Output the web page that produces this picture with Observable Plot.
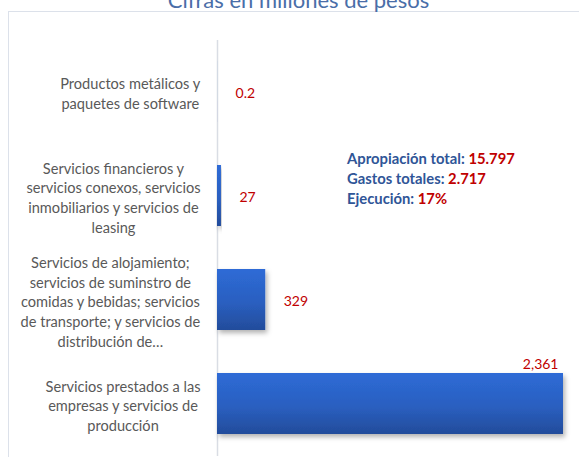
<!DOCTYPE html>
<html>
<head>
<meta charset="utf-8">
<script src="https://cdn.jsdelivr.net/npm/d3@7"></script>
<script src="https://cdn.jsdelivr.net/npm/@observablehq/plot@0.6"></script>
<style>
  html, body { margin: 0; padding: 0; background: #fff; overflow: hidden; }
  #wrap { position: relative; width: 579px; height: 457px; overflow: hidden; }
  #border { position: absolute; left: 8px; top: 11px; width: 600px; height: 500px; border: 1.5px solid #dce1ea; box-sizing: border-box; }
  #title { position: absolute; left: 0; width: 597px; top: -12px; text-align: center; font-family: Lato, sans-serif; font-size: 22px; color: #4a6ea8; line-height: 24px; white-space: nowrap; }
  #chart { position: absolute; left: 0; top: 0; }
  #note { position: absolute; left: 347px; top: 148px; font-family: Lato, sans-serif; font-weight: bold; font-size: 14.8px; line-height: 20px; color: #2f5597; white-space: nowrap; }
  #note .v { color: #c00000; }
</style>
</head>
<body>
<div id="wrap">
  <div id="border"></div>
  <div id="title">Cifras en millones de pesos</div>
  <div id="chart"></div>
  <div id="note"></div>
</div>
<script>
// ---- data ----
const categories = [
  "Productos metálicos y\npaquetes de software",
  "Servicios financieros y\nservicios conexos, servicios\ninmobiliarios y servicios de\nleasing",
  "Servicios de alojamiento;\nservicios de suminstro de\ncomidas y bebidas; servicios\nde transporte; y servicios de\ndistribución de…",
  "Servicios prestados a las\nempresas y servicios de\nproducción"
];
const values = [0.2, 27, 329, 2361];
const noteLabels = ["Apropiación total:", "Gastos totales:", "Ejecución:"];
const noteValues = ["15.797", "2.717", "17%"];

// ---- build ----
const data = categories.map((c, i) => ({category: c, value: values[i]}));
const fmt = d3.format(",");
const maxV = d3.max(values);

const labelSize = 14.6;
const ctx = document.createElement("canvas").getContext("2d");
ctx.font = labelSize + "px Lato";
const blockWidth = c => d3.max(c.split("\n"), l => ctx.measureText(l).width);

const labelMarks = data.map(d => Plot.text([d], {
  x: () => 0, y: "category", text: "category",
  textAnchor: "middle", lineAnchor: "middle", lineHeight: 1.36,
  dx: -(17 + blockWidth(d.category) / 2), dy: 1,
  fill: "#595959", fontSize: labelSize, fontFamily: "Lato"
}));

const plot = Plot.plot({
  width: 579,
  height: 457,
  marginLeft: 217,
  marginRight: 16,
  marginTop: 40,
  marginBottom: 1,
  style: {background: "transparent", fontFamily: "Lato"},
  x: {domain: [0, maxV], axis: null},
  y: {domain: categories, axis: null, paddingInner: 0.41, paddingOuter: 0.19},
  marks: [
    Plot.ruleX([0], {stroke: "#d9dde4", strokeWidth: 1.5}),
    Plot.barX(data, {x: "value", y: "category", fill: "url(#barGrad)"}),
    ...labelMarks,
    Plot.text(data.filter(d => d.value < maxV), {
      x: "value", y: "category", text: d => fmt(d.value),
      textAnchor: "start", dx: 18, dy: 2, fill: "#c00000", fontSize: 14, fontFamily: "Lato"
    }),
    Plot.text(data.filter(d => d.value === maxV), {
      x: "value", y: "category", text: d => fmt(d.value),
      textAnchor: "end", dx: -5, dy: -39, fill: "#c00000", fontSize: 14, fontFamily: "Lato"
    })
  ]
});

// gradient + shadow definitions
const svg = d3.select(plot);
const defs = svg.insert("defs", ":first-child");
const g = defs.append("linearGradient").attr("id", "barGrad")
  .attr("x1", 0).attr("y1", 0).attr("x2", 0).attr("y2", 1);
g.append("stop").attr("offset", "0%").attr("stop-color", "#2e6bd6");
g.append("stop").attr("offset", "55%").attr("stop-color", "#2a5fc0");
g.append("stop").attr("offset", "100%").attr("stop-color", "#234c9b");
const f = defs.append("filter").attr("id", "shadow")
  .attr("x", "-10%").attr("y", "-10%").attr("width", "130%").attr("height", "140%");
f.append("feDropShadow").attr("dx", 2).attr("dy", 3).attr("stdDeviation", 2.5)
  .attr("flood-color", "#000").attr("flood-opacity", 0.3);
svg.selectAll("g[aria-label='bar'] rect").attr("filter", "url(#shadow)");

document.getElementById("chart").appendChild(plot);

const note = document.getElementById("note");
noteLabels.forEach((l, i) => {
  const div = document.createElement("div");
  div.innerHTML = l + " <span class='v'>" + noteValues[i] + "</span>";
  note.appendChild(div);
});
</script>
</body>
</html>
